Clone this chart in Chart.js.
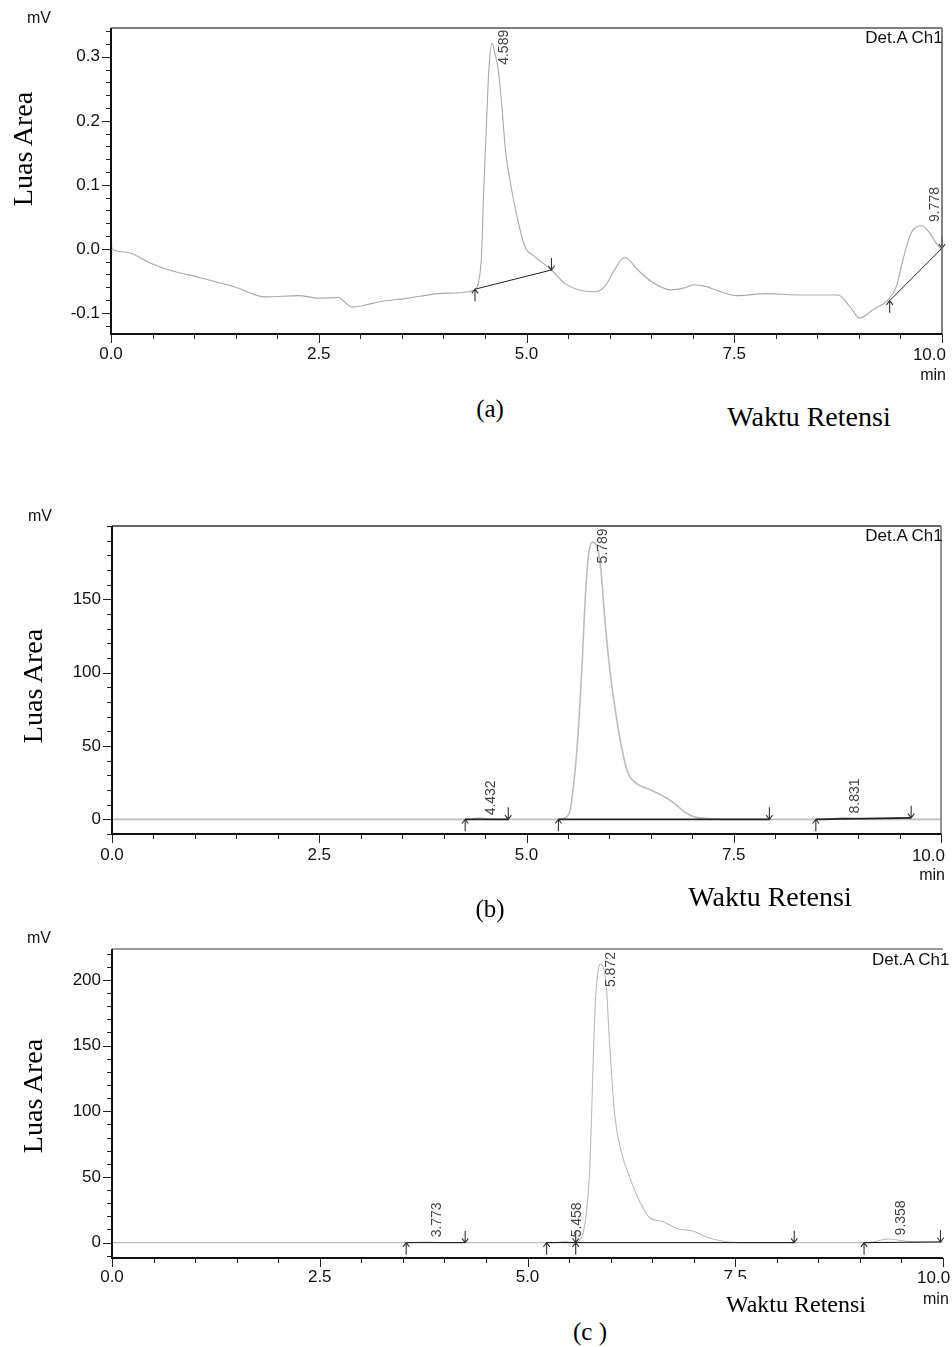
<!DOCTYPE html>
<html>
<head>
<meta charset="utf-8">
<script src="https://cdn.jsdelivr.net/npm/chart.js@4.4.1/dist/chart.umd.min.js"></script>
<style>
  body { margin: 0; background: #fff; }
  #page { position: relative; width: 952px; height: 1347px; overflow: hidden; background: #fff; }
  canvas { position: absolute; left: 0; }
  .t { position: absolute; white-space: nowrap; line-height: 1; z-index: 5; }
  .sans { font-family: "Liberation Sans", Arial, sans-serif; color: #111; }
  .serif { font-family: "Liberation Serif", "Times New Roman", serif; color: #000; }
  .c { transform: translate(-50%, -50%); }
  .rot { transform: translate(-50%, -50%) rotate(-90deg); }
  .r { transform: translate(-100%, -50%); }
</style>
</head>
<body>
<div id="page">
  <canvas id="ca" width="952" height="385" style="top:0px"></canvas>
  <canvas id="cb" width="952" height="385" style="top:500px"></canvas>
  <canvas id="cc" width="952" height="380" style="top:920px"></canvas>

  <!-- panel (a) -->
  <div class="t sans c" style="left:39px; top:18px; font-size:16px;">mV</div>
  <div class="t serif rot" style="left:23px; top:149px; font-size:28px;">Luas Area</div>
  <div class="t sans c" style="left:904px; top:37px; font-size:17px;">Det.A Ch1</div>
  <div class="t sans r" style="left:946px; top:354px; font-size:17px;">10.0</div>
  <div class="t sans r" style="left:946px; top:375px; font-size:16px;">min</div>
  <div class="t serif c" style="left:490px; top:408px; font-size:25px;">(a)</div>
  <div class="t serif c" style="left:809px; top:417px; font-size:28px;">Waktu Retensi</div>

  <!-- panel (b) -->
  <div class="t sans c" style="left:40px; top:516px; font-size:16px;">mV</div>
  <div class="t serif rot" style="left:33px; top:686px; font-size:28px;">Luas Area</div>
  <div class="t sans c" style="left:904px; top:535px; font-size:17px;">Det.A Ch1</div>
  <div class="t sans r" style="left:945px; top:855px; font-size:17px;">10.0</div>
  <div class="t sans r" style="left:945px; top:875px; font-size:16px;">min</div>
  <div class="t serif c" style="left:490px; top:908px; font-size:25px;">(b)</div>
  <div class="t serif c" style="left:770px; top:897px; font-size:28px;">Waktu Retensi</div>

  <!-- panel (c) -->
  <div class="t sans c" style="left:39px; top:938px; font-size:16px;">mV</div>
  <div class="t serif rot" style="left:33px; top:1096px; font-size:28px;">Luas Area</div>
  <div class="t sans" style="left:872px; top:951px; font-size:17px;">Det.A Ch1</div>
  <div class="t sans" style="left:917px; top:1269px; font-size:17px;">10.0</div>
  <div class="t sans" style="left:923px; top:1291px; font-size:16px;">min</div>
  <div class="t serif" style="left:701px; top:1279px; width:190px; height:36px; background:#fff; font-size:24px; text-align:center; padding-top:13px; box-sizing:border-box;">Waktu Retensi</div>
  <div class="t serif c" style="left:590px; top:1331px; font-size:25px;">(c )</div>
</div>

<script>
// ---------- data: panel (a) ----------
const timeA = [0, 0.01, 0.17, 0.47, 0.7, 1.07, 1.5, 1.86, 2.26, 2.5, 2.74, 2.82, 2.9, 3.05, 3.22, 3.58, 3.94, 4.3,
  4.38, 4.42, 4.46, 4.487, 4.52, 4.547, 4.587, 4.62, 4.66, 4.7, 4.75, 4.8, 4.86, 4.98, 5.1, 5.3, 5.46, 5.62,
  5.82, 5.94, 6.05, 6.18, 6.34, 6.5, 6.74, 6.9, 7.01, 7.17, 7.29, 7.53, 7.89, 8.25, 8.75, 8.89, 9.01, 9.17,
  9.35, 9.45, 9.53, 9.63, 9.76, 9.85, 9.93, 10.0];
const signalA = [0.065, 0.0, -0.005, -0.022, -0.033, -0.045, -0.06, -0.075, -0.073, -0.077, -0.076, -0.084, -0.091,
  -0.088, -0.083, -0.077, -0.07, -0.067,
  -0.063, -0.054, -0.007, 0.097, 0.2, 0.28, 0.321, 0.305, 0.28, 0.228, 0.15, 0.108, 0.066, 0.004, -0.012, -0.033,
  -0.054, -0.064, -0.067, -0.059, -0.035, -0.013, -0.033, -0.051, -0.064, -0.061, -0.056, -0.059, -0.065, -0.073,
  -0.07, -0.072, -0.072, -0.09, -0.108, -0.095, -0.08, -0.059, -0.017, 0.025, 0.036, 0.025, 0.009, -0.002];
const baselineA = [[4.38, -0.063, 5.30, -0.033], [9.37, -0.081, 10.0, 0.001]];
const peakRtA = [4.589, 9.778];
const peakLabelYA = [0.2875, 0.042];
const yLabelsA = [-0.1, 0.0, 0.1, 0.2, 0.3];

// ---------- data: panel (b) ----------
const timeB = [0, 4.3, 4.43, 4.6, 5.4, 5.465, 5.525, 5.565, 5.605, 5.645, 5.677, 5.705, 5.745, 5.793, 5.845,
  5.898, 5.946, 6.006, 6.066, 6.146, 6.226, 6.306, 6.506, 6.667, 6.787, 6.907, 7.03, 7.19, 7.4, 8.6, 8.83, 9.1, 10];
const signalB = [0, 0, 0.8, 0, 0, 0.9, 6.1, 22, 44.8, 78.9, 113, 147, 178.8, 189, 186.8,
  169.7, 135.7, 101.6, 76.5, 49.3, 31.2, 25.4, 19.8, 15.2, 10.7, 5, 1.6, 0.5, 0, 0, 1, 0, 0];
const baselineB = [[4.26, 0, 4.78, 0], [5.385, 0, 7.93, 0], [8.49, 0, 9.64, 1]];
const peakRtB = [4.432, 5.789, 8.831];
const peakLabelYB = [2.7, 174.5, 4];
const yLabelsB = [0, 50, 100, 150];

// ---------- data: panel (c) ----------
const timeC = [0, 3.6, 3.77, 3.95, 5.3, 5.46, 5.55, 5.627, 5.667, 5.707, 5.746, 5.774, 5.798, 5.826, 5.854, 5.877,
  5.917, 5.952, 5.985, 6.017, 6.052, 6.124, 6.243, 6.362, 6.461, 6.639, 6.798, 6.996, 7.155, 7.354, 7.55,
  9.1, 9.34, 9.6, 10];
const signalC = [0, 0, 0.5, 0, 0, 0.8, 0, 1.8, 6.9, 22, 52.6, 103, 154, 192, 208.7, 212,
  208.7, 192, 154, 123.7, 95.7, 70.3, 47.5, 29.7, 19.5, 15.7, 10.7, 8.6, 4.3, 1, 0,
  0, 2.8, 0.8, 0.5];
const baselineC = [[3.54, 0, 4.25, 0], [5.23, 0, 5.58, 0], [5.58, 0, 8.21, 0], [9.05, 0, 9.97, 0.5]];
const peakRtC = [3.773, 5.458, 5.872, 9.358];
const peakLabelYC = [4, 4, 194.5, 5.5];
const yLabelsC = [0, 50, 100, 150, 200];

const xLabels = [0, 2.5, 5, 7.5];
const xMax = 10;

const panels = [
  { id: 'ca', time: timeA, signal: signalA, baselines: baselineA, peakRt: peakRtA, peakLabelY: peakLabelYA,
    yLabels: yLabelsA, yMin: -0.133, yMax: 0.345, yStep: 0.02, yDec: 1,
    left: 111, right: 946, top: 28, bottom: 334, height: 385, xPad: 10,
    line: '#a9a9a9', lineW: 1.1, base: '#222', baseW: 1, topBorder: '#555', rightBorder: '#666' },
  { id: 'cb', time: timeB, signal: signalB, baselines: baselineB, peakRt: peakRtB, peakLabelY: peakLabelYB,
    yLabels: yLabelsB, yMin: -10, yMax: 200, yStep: 10, yDec: 0,
    left: 112, right: 944, top: 26, bottom: 334, height: 385, xPad: 11,
    line: '#bdbdbd', lineW: 1.6, base: '#222', baseW: 1.6, topBorder: '#333', rightBorder: '#777' },
  { id: 'cc', time: timeC, signal: signalC, baselines: baselineC, peakRt: peakRtC, peakLabelY: peakLabelYC,
    yLabels: yLabelsC, yMin: -11.7, yMax: 223.5, yStep: 10, yDec: 0,
    left: 112, right: 952, top: 29, bottom: 338, height: 380, xPad: 9,
    line: '#bcbcbc', lineW: 1.1, base: '#111', baseW: 1, topBorder: '#777', rightBorder: null }
];

function stepTicks(min, max, step) {
  const out = [];
  for (let k = Math.ceil(min / step - 1e-9); k * step <= max + 1e-9; k++) {
    out.push(Math.round(k * step * 1000) / 1000);
  }
  return out;
}

function isMajor(v, list) {
  return list.some(m => Math.abs(m - v) < 1e-6);
}

function arrow(ctx, x, y, up) {
  const len = 12, h = 3.2;
  ctx.beginPath();
  if (up) {
    ctx.moveTo(x, y + len); ctx.lineTo(x, y);
    ctx.moveTo(x - h, y + h + 1); ctx.lineTo(x, y); ctx.lineTo(x + h, y + h + 1);
  } else {
    ctx.moveTo(x, y - len); ctx.lineTo(x, y);
    ctx.moveTo(x - h, y - h - 1); ctx.lineTo(x, y); ctx.lineTo(x + h, y - h - 1);
  }
  ctx.stroke();
}

function buildChart(p) {
  const ctx = document.getElementById(p.id).getContext('2d');
  const datasets = [{
    data: p.time.map((t, i) => ({ x: t, y: p.signal[i] })),
    borderColor: p.line, borderWidth: p.lineW, pointRadius: 0,
    cubicInterpolationMode: 'monotone', order: 2
  }];
  p.baselines.forEach(b => {
    datasets.push({
      data: [{ x: b[0], y: b[1] }, { x: b[2], y: b[3] }],
      borderColor: p.base, borderWidth: p.baseW, pointRadius: 0, order: 1
    });
  });

  const decor = {
    id: 'decor',
    afterDatasetsDraw(chart) {
      const c = chart.ctx, xs = chart.scales.x, ys = chart.scales.y;
      c.save();
      c.strokeStyle = '#333';
      c.lineWidth = 1.1;
      p.baselines.forEach(b => {
        arrow(c, xs.getPixelForValue(b[0]), ys.getPixelForValue(b[1]), true);
        arrow(c, xs.getPixelForValue(b[2]), ys.getPixelForValue(b[3]), false);
      });
      c.fillStyle = '#444';
      c.font = '14px "Liberation Sans", Arial, sans-serif';
      c.textAlign = 'left';
      c.textBaseline = 'middle';
      p.peakRt.forEach((rt, i) => {
        c.save();
        c.translate(xs.getPixelForValue(rt) + 11.5, ys.getPixelForValue(p.peakLabelY[i]));
        c.rotate(-Math.PI / 2);
        c.fillText(rt.toFixed(3), 0, 0);
        c.restore();
      });
      c.restore();
    },
    afterDraw(chart) {
      const c = chart.ctx, a = chart.chartArea, xs = chart.scales.x, ys = chart.scales.y;
      c.save();
      // tick marks
      c.strokeStyle = '#222';
      c.lineWidth = 1;
      c.beginPath();
      xs.ticks.forEach(tk => {
        const px = Math.round(xs.getPixelForValue(tk.value)) + 0.5;
        const len = isMajor(tk.value, xLabels.concat([xMax])) ? 9 : 5;
        c.moveTo(px, a.bottom); c.lineTo(px, a.bottom + len);
      });
      ys.ticks.forEach(tk => {
        const py = Math.round(ys.getPixelForValue(tk.value)) + 0.5;
        const len = isMajor(tk.value, p.yLabels) ? 9 : 5;
        c.moveTo(a.left, py); c.lineTo(a.left - len, py);
      });
      c.stroke();
      // frame
      c.lineWidth = 1.6;
      c.strokeStyle = p.topBorder;
      c.beginPath(); c.moveTo(a.left, a.top); c.lineTo(a.right, a.top); c.stroke();
      if (p.rightBorder) {
        c.strokeStyle = p.rightBorder;
        c.beginPath(); c.moveTo(a.right, a.top); c.lineTo(a.right, a.bottom); c.stroke();
      }
      c.lineWidth = 2;
      c.strokeStyle = '#111';
      c.beginPath();
      c.moveTo(a.left, a.top); c.lineTo(a.left, a.bottom); c.lineTo(a.right, a.bottom);
      c.stroke();
      c.restore();
    }
  };

  return new Chart(ctx, {
    type: 'line',
    data: { datasets },
    options: {
      responsive: false,
      animation: false,
      devicePixelRatio: 1,
      layout: { padding: { top: p.top, right: 952 - p.right, left: 0, bottom: 0 } },
      plugins: { legend: { display: false }, tooltip: { enabled: false } },
      scales: {
        x: {
          type: 'linear', min: 0, max: xMax,
          grid: { display: false, drawTicks: false, tickLength: 0 }, border: { display: false },
          afterBuildTicks: s => { s.ticks = stepTicks(0, xMax, 0.5).map(v => ({ value: v })); },
          afterFit: s => { s.height = p.height - p.bottom; },
          ticks: {
            autoSkip: false, maxRotation: 0, padding: p.xPad, color: '#111',
            font: { family: '"Liberation Sans", Arial, sans-serif', size: 17 },
            callback: v => (isMajor(v, xLabels) ? v.toFixed(1) : '')
          }
        },
        y: {
          type: 'linear', min: p.yMin, max: p.yMax,
          grid: { display: false, drawTicks: false, tickLength: 0 }, border: { display: false },
          afterBuildTicks: s => { s.ticks = stepTicks(p.yMin, p.yMax, p.yStep).map(v => ({ value: v })); },
          afterFit: s => { s.width = p.left; },
          ticks: {
            autoSkip: false, padding: 11, color: '#111',
            font: { family: '"Liberation Sans", Arial, sans-serif', size: 17 },
            callback: v => (isMajor(v, p.yLabels) ? v.toFixed(p.yDec) : '')
          }
        }
      }
    },
    plugins: [decor]
  });
}

panels.forEach(buildChart);
</script>
</body>
</html>
